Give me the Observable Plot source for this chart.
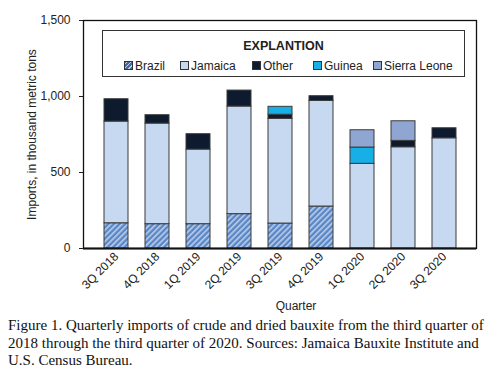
<!DOCTYPE html>
<html>
<head>
<meta charset="utf-8">
<script src="https://cdn.jsdelivr.net/npm/d3@7"></script>
<script src="https://cdn.jsdelivr.net/npm/@observablehq/plot@0.6"></script>
<style>
  body { margin: 0; background: #fff; }
  #wrap { position: relative; width: 500px; }
  #legend { position: absolute; left: 102px; top: 30px; width: 361px; height: 45px;
    border: 1.5px solid #333; font-family: "Liberation Sans", Arial, sans-serif; font-size: 12px; color: #222; background: #fff; }
  #legend .title { position: absolute; top: 8px; left: 0; width: 100%; text-align: center; font-weight: bold; font-size: 12.5px; }
  #legend .item { position: absolute; top: 28px; white-space: nowrap; }
  #legend .sw { display: inline-block; width: 7px; height: 7px; border: 1px solid #333; margin-right: 2px; vertical-align: 0px; }
  #caption { font-family: "Liberation Serif", "Times New Roman", serif; font-size: 15px; line-height: 17.5px; color: #111; padding-left: 8px; width: 492px; margin-top: 1px; white-space: nowrap; }
</style>
</head>
<body>
<div id="wrap">
  <div id="chart"></div>
  <div id="legend"></div>
  <div id="caption">Figure 1. Quarterly imports of crude and dried bauxite from the third quarter of<br>2018 through the third quarter of 2020. Sources: Jamaica Bauxite Institute and<br>U.S. Census Bureau.</div>
</div>
<script>
const quarters = ["3Q 2018","4Q 2018","1Q 2019","2Q 2019","3Q 2019","4Q 2019","1Q 2020","2Q 2020","3Q 2020"];
const seriesNames = ["Brazil","Jamaica","Other","Guinea","Sierra Leone"];
const brazil      = [166, 160, 160, 226, 164, 276,   0,   0,   0];
const jamaica     = [669, 662, 491, 708, 689, 695, 557, 666, 725];
const other       = [147,  55, 101, 105,  27,  31,   0,  42,  66];
const guinea      = [  0,   0,   0,   0,  52,   0, 107,   0,   0];
const sierraLeone = [  0,   0,   0,   0,   0,   0, 114, 129,   0];
const seriesColors = ["url(#hatch)", "#c6d9f0", "#0e1b2f", "#17b0e6", "#8fa6d2"];
const yTicks = [0, 500, 1000, 1500];

const seriesValues = [brazil, jamaica, other, guinea, sierraLeone];
const data = [];
seriesNames.forEach((s, i) => quarters.forEach((q, j) => data.push({quarter: q, series: s, value: seriesValues[i][j]})));

const chart = Plot.plot({
  width: 500,
  height: 316,
  marginTop: 20,
  marginLeft: 83,
  marginRight: 24,
  marginBottom: 68,
  style: {fontFamily: "'Liberation Sans', Arial, sans-serif", fontSize: "12px", color: "#222"},
  x: {domain: quarters, padding: 0.42, label: null},
  y: {domain: [0, 1500], ticks: yTicks, tickFormat: d3.format(","), label: "Imports, in thousand metric tons"},
  color: {domain: seriesNames, range: seriesColors},
  marks: [
    Plot.barY(data.filter(d => d.value > 0), Plot.stackY({order: seriesNames}, {
      x: "quarter", y: "value", fill: "series", stroke: "#3a3a3a", strokeWidth: 1
    })),
    Plot.axisY({ticks: yTicks, tickFormat: d3.format(","), tickSize: 4, tickPadding: 9, fontSize: 12,
      label: "Imports, in thousand metric tons", labelAnchor: "center", labelArrow: "none", labelOffset: 56}),
    Plot.axisX({tickRotate: -45, tickSize: 0, tickPadding: 6, fontSize: 12, label: null}),
    Plot.frame({stroke: "#111", strokeWidth: 1.3}),
    Plot.ruleY([0], {stroke: "#111", strokeWidth: 2}),
    Plot.text(["Quarter"], {frameAnchor: "bottom", dx: 16, dy: 61, fontSize: 12, fill: "#222"})
  ]
});

// hatch pattern for Brazil
const svgNS = "http://www.w3.org/2000/svg";
const defs = document.createElementNS(svgNS, "defs");
defs.innerHTML = `<pattern id="hatch" patternUnits="userSpaceOnUse" width="4" height="4" patternTransform="rotate(45)">
  <rect width="4" height="4" fill="#5a86c5"></rect>
  <rect width="1.6" height="4" fill="#bcd0ec"></rect></pattern>`;
chart.insertBefore(defs, chart.firstChild);
document.getElementById("chart").appendChild(chart);

// legend
const legend = document.getElementById("legend");
const title = document.createElement("div");
title.className = "title";
title.textContent = "EXPLANTION";
legend.appendChild(title);
const legendLeft = [21, 77, 149, 210, 270];
seriesNames.forEach((s, i) => {
  const it = document.createElement("div");
  it.className = "item";
  it.style.left = legendLeft[i] + "px";
  const sw = document.createElement("span");
  sw.className = "sw";
  if (s === "Brazil") {
    sw.style.background = "repeating-linear-gradient(-45deg, #3f6db0 0 2px, #bcd0ec 2px 3px)";
  } else {
    sw.style.background = seriesColors[i];
  }
  it.appendChild(sw);
  it.appendChild(document.createTextNode(s));
  legend.appendChild(it);
});
</script>
</body>
</html>
